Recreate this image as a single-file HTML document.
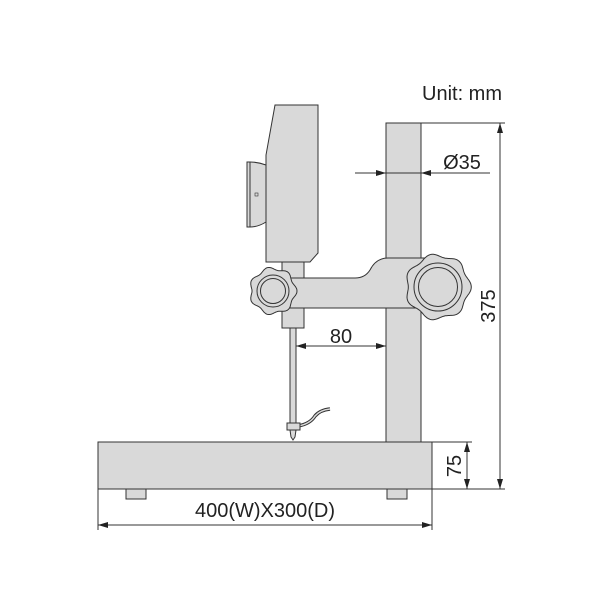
<!DOCTYPE html>
<html><head><meta charset="utf-8"><style>
html,body{margin:0;padding:0;background:#fff;}
svg{display:block;}
text{font-family:"Liberation Sans",Arial,sans-serif;fill:#222;}
</style></head><body>
<svg id="s" width="600" height="600" viewBox="0 0 600 600" xmlns="http://www.w3.org/2000/svg">
<defs>
<marker id="a" viewBox="0 0 10 6" refX="10" refY="3" markerWidth="10" markerHeight="6" orient="auto-start-reverse" markerUnits="userSpaceOnUse"><path d="M0,0 L10,3 L0,6 z" fill="#222"/></marker>
</defs>
<g stroke="#333" stroke-width="1" fill="#d9d9d9">
<rect x="386" y="123" width="35" height="319"/>
<path d="M275,105 L318,105 L318,253 L310,262 L266,262 L266,155 Z"/>
<path d="M266,165 Q258,162 250,162 L247,162 L247,227 L250,227 Q258,227 266,222 Z"/>
<line x1="250" y1="162" x2="250" y2="227"/>
<rect x="255" y="193" width="3" height="3" fill="none" stroke-width="0.6"/>
<rect x="282" y="262" width="22" height="66"/>
<path d="M290,278 L355,278 Q365,278 370,270 Q376,258 388,258 L425,258 L425,308 L290,308 Z"/>
<rect x="290" y="328" width="6" height="97"/>
<path d="M298,426 Q310,424 315,416 Q320,410 330,409" fill="none" stroke-width="3.5"/>
<path d="M298,426 Q310,424 315,416 Q320,410 330,409" fill="none" stroke="#d9d9d9" stroke-width="1.5"/>
<rect x="287" y="423" width="13" height="7"/>
<path d="M290,430 L296,430 L295,437 L293,440 L291,437 Z"/>
<rect x="98" y="442" width="334" height="47"/>
<rect x="126" y="489" width="20" height="10"/>
<rect x="387" y="489" width="20" height="10"/>
<g id="knobs"></g>
</g>
<g stroke="#333" stroke-width="1" fill="none">
<line x1="421" y1="123" x2="505" y2="123"/>
<line x1="432" y1="489" x2="505" y2="489"/>
<line x1="500" y1="123" x2="500" y2="489" marker-start="url(#a)" marker-end="url(#a)"/>
<line x1="432" y1="442" x2="472" y2="442"/>
<line x1="467" y1="442" x2="467" y2="489" marker-start="url(#a)" marker-end="url(#a)"/>
<line x1="296" y1="346" x2="386" y2="346" marker-start="url(#a)" marker-end="url(#a)"/>
<line x1="355" y1="173" x2="386" y2="173" marker-end="url(#a)"/>
<line x1="386" y1="173" x2="490" y2="173"/>
<line x1="440" y1="173" x2="421" y2="173" marker-end="url(#a)"/>
<line x1="98" y1="489" x2="98" y2="530"/>
<line x1="432" y1="489" x2="432" y2="530"/>
<line x1="98" y1="525" x2="432" y2="525" marker-start="url(#a)" marker-end="url(#a)"/>
</g>
<text x="462" y="100" font-size="20" text-anchor="middle">Unit: mm</text>
<text x="462" y="169" font-size="20" text-anchor="middle">Ø35</text>
<text x="341" y="343" font-size="20" text-anchor="middle">80</text>
<text x="265" y="517" font-size="20" text-anchor="middle">400(W)X300(D)</text>
<text transform="translate(495,306) rotate(-90)" font-size="20" text-anchor="middle">375</text>
<text transform="translate(461,466) rotate(-90)" font-size="20" text-anchor="middle">75</text>
</svg>
<script>
function knob(cx,cy,R,n,amp,r1,r2){
 var p=[];for(var i=0;i<=180;i++){var t=i/180*2*Math.PI;var r=R+amp*Math.cos(n*t);p.push((cx+r*Math.cos(t)).toFixed(1)+','+(cy+r*Math.sin(t)).toFixed(1));}
 return '<polygon points="'+p.join(' ')+'"/><circle cx="'+cx+'" cy="'+cy+'" r="'+r1+'"/><circle cx="'+cx+'" cy="'+cy+'" r="'+r2+'"/>';
}
document.getElementById('knobs').innerHTML=knob(273,291,22.5,7,1.5,16,12.5)+knob(438,287,31.5,7,1.8,24,19.5);
</script>
</body></html>
